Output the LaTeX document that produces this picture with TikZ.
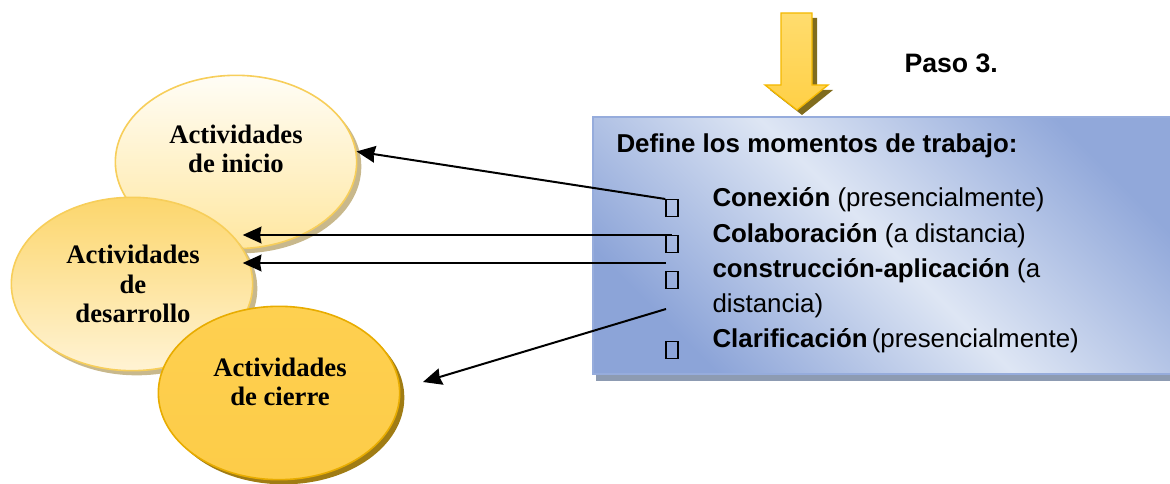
\documentclass[tikz,border=0pt]{standalone}
\usepackage{fontspec}
\setmainfont{Liberation Serif}
\newfontfamily\arialfont{Liberation Sans}
\usetikzlibrary{shapes.geometric,arrows.meta,shadows}

\tikzset{every picture/.style={line width=0.75pt}}
\tikzset{
  actnode/.style={ellipse, minimum width=181pt, minimum height=130pt, inner sep=0pt, line width=1.2pt},
  acttext/.style={align=center, inner sep=0.75pt, font=\fontsize{20}{22}\selectfont\bfseries},
  boxtext/.style={anchor=base west, inner sep=0pt, font=\arialfont\fontsize{19.4}{24}\selectfont},
  tofu/.style={draw=black, line width=1pt, minimum width=9pt, minimum height=12.5pt, inner sep=0pt},
  conn/.style={line width=1.5pt, -{Stealth[length=14pt, width=12.5pt, inset=1pt]}},
}

\begin{document}
\begin{tikzpicture}[x=0.75pt,y=0.75pt,yscale=-1,xscale=1]
\clip (0,0) rectangle (1170,484);

%Shape: Ellipse [inicio]
\node [actnode, draw={rgb, 255:red, 247; green, 206; blue, 90 },
  top color={rgb, 255:red, 255; green, 253; blue, 246 }, bottom color={rgb, 255:red, 255; green, 231; blue, 160 },
  drop shadow={shadow xshift=3.5pt, shadow yshift=-3.5pt, opacity=1, fill={rgb, 255:red, 200; green, 184; blue, 140 }}]
  (inicio) at (236,162) {};
%Shape: Ellipse [desarrollo]
\node [actnode, draw={rgb, 255:red, 247; green, 206; blue, 90 },
  top color={rgb, 255:red, 252; green, 214; blue, 108 }, bottom color={rgb, 255:red, 255; green, 243; blue, 212 },
  drop shadow={shadow xshift=3.5pt, shadow yshift=-3.5pt, opacity=1, fill={rgb, 255:red, 200; green, 184; blue, 140 }}]
  (desarrollo) at (132,284) {};
%Shape: Ellipse [cierre]
\node [actnode, draw={rgb, 255:red, 232; green, 172; blue, 0 },
  top color={rgb, 255:red, 254; green, 208; blue, 80 }, middle color={rgb, 255:red, 252; green, 190; blue, 16 }, bottom color={rgb, 255:red, 253; green, 204; blue, 72 },
  drop shadow={shadow xshift=3.5pt, shadow yshift=-3.5pt, opacity=1, fill={rgb, 255:red, 160; green, 124; blue, 20 }}]
  (cierre) at (279,393) {};

% Text Node
\node [acttext] (tinicio) at (236,149) {Actividades\\de inicio};
% Text Node
\node [acttext] (tdesarrollo) at (133,284) {Actividades\\de\\desarrollo};
% Text Node
\node [acttext] (tcierre) at (280,382) {Actividades\\de cierre};

%Shape: Block Arrow
\fill [color={rgb, 255:red, 128; green, 108; blue, 30 }] (786,18) -- (817,18) -- (817,90) -- (833,90) -- (802,115) -- (770,90) -- (786,90) -- cycle ;
\draw [color={rgb, 255:red, 244; green, 184; blue, 0 }, line width=1pt, top color={rgb, 255:red, 255; green, 220; blue, 110 }, middle color={rgb, 255:red, 255; green, 192; blue, 0 }, bottom color={rgb, 255:red, 255; green, 208; blue, 70 }] (781,13) -- (812,13) -- (812,85) -- (828,85) -- (797,110) -- (765,85) -- (781,85) -- cycle ;

%Shape: Rectangle
\fill [color={rgb, 255:red, 141; green, 155; blue, 178 }] (596,124) rectangle (1180,381) ;
\draw [color={rgb, 255:red, 150; green, 172; blue, 220 }, line width=1.2pt, left color={rgb, 255:red, 145; green, 168; blue, 218 }, right color={rgb, 255:red, 140; green, 164; blue, 216 }, middle color={rgb, 255:red, 222; green, 230; blue, 244 }, shading angle=-45] (593,117) rectangle (1180,374) ;

% Text Node
\node [anchor=base west, inner sep=0pt, font=\arialfont\fontsize{20}{24}\selectfont\bfseries] (paso) at (904,73) {Paso 3.};
% Text Node
\node [boxtext] (define) at (616,153) {\bfseries Define los momentos de trabajo:};
\node [boxtext] (conexion) at (712,207) {\bfseries Conexión\mdseries\ (presencialmente)};
\node [boxtext] (colaboracion) at (712,243) {\bfseries Colaboración\mdseries\ (a distancia)};
\node [boxtext] (construccion) at (712,278) {\bfseries construcción-aplicación\mdseries\ (a};
\node [boxtext] (distancia) at (712,313) {distancia)};
\node [boxtext] (clarificacion) at (712,348) {\bfseries Clarificación\mdseries\hspace{3pt}(presencialmente)};

% Bullet boxes
\node [tofu] (b1) at (672,208) {};
\node [tofu] (b2) at (672,244) {};
\node [tofu] (b3) at (672,280) {};
\node [tofu] (b4) at (672,350) {};
\coordinate (s3) at (666,263);
\coordinate (s4) at (666,309);
\coordinate (e4) at (423,382);

%Straight Lines
\draw [conn] (b1.north west) -- (inicio.5) ;
\draw [conn] (b2.north) -- (b2.north -| desarrollo.18) ;
\draw [conn] (s3) -- (s3 -| desarrollo.18) ;
\draw [conn] (s4) -- (e4) ;

\end{tikzpicture}
\end{document}
